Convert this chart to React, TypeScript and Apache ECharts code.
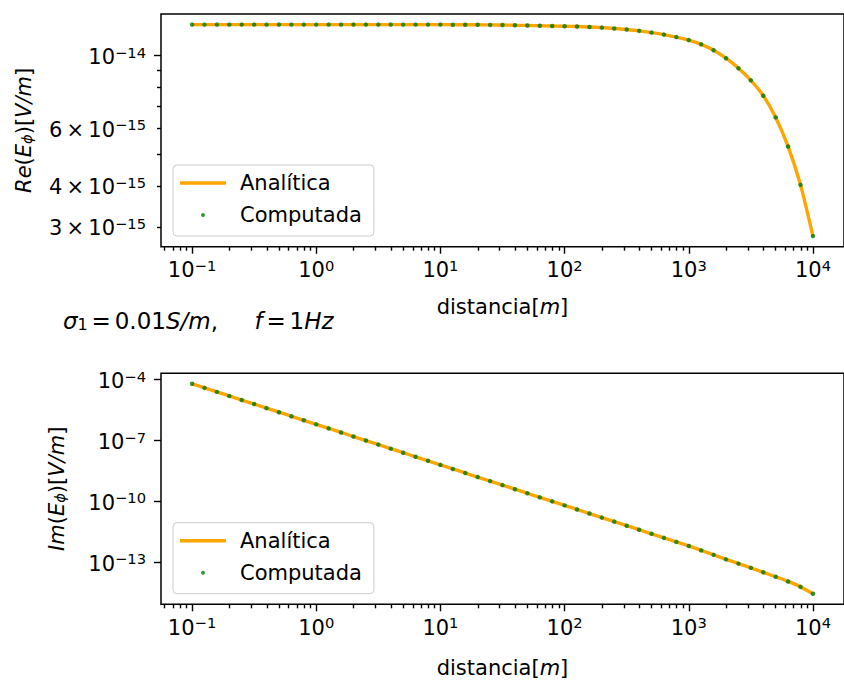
import React, { useEffect, useRef } from 'react';
import * as echarts from 'echarts';

// ---- data ----
const distancia = [
  0.1, 0.1259, 0.1585, 0.1995, 0.2512, 0.3162, 0.3981, 0.5012, 0.631, 0.7943,
  1, 1.259, 1.585, 1.995, 2.512, 3.162, 3.981, 5.012, 6.31, 7.943,
  10, 12.59, 15.85, 19.95, 25.12, 31.62, 39.81, 50.12, 63.1, 79.43,
  100, 125.9, 158.5, 199.5, 251.2, 316.2, 398.1, 501.2, 631, 794.3,
  1000, 1259, 1585, 1995, 2512, 3162, 3981, 5012, 6310, 7943, 10000,
];

const reEphi = [
  1.245e-14, 1.245e-14, 1.245e-14, 1.245e-14, 1.245e-14, 1.245e-14, 1.245e-14,
  1.245e-14, 1.245e-14, 1.245e-14, 1.245e-14, 1.245e-14, 1.245e-14, 1.245e-14,
  1.245e-14, 1.245e-14, 1.245e-14, 1.245e-14, 1.245e-14, 1.245e-14, 1.245e-14,
  1.244e-14, 1.244e-14, 1.243e-14, 1.242e-14, 1.241e-14, 1.239e-14, 1.237e-14, 1.235e-14, 1.233e-14,
  1.2307e-14, 1.2281e-14, 1.2238e-14, 1.2185e-14, 1.2117e-14, 1.2023e-14, 1.1912e-14, 1.1768e-14, 1.1603e-14, 1.1399e-14,
  1.116e-14, 1.0832e-14, 1.0397e-14, 9.824e-15, 9.154e-15, 8.408e-15, 7.547e-15, 6.478e-15, 5.276e-15, 4.03e-15, 2.809e-15,
];

const imEphi = [
  6.31e-5, 3.98e-5, 2.51e-5, 1.58e-5, 1.0e-5,
  6.31e-6, 3.98e-6, 2.51e-6, 1.58e-6, 1.0e-6,
  6.31e-7, 3.98e-7, 2.51e-7, 1.58e-7, 1.0e-7,
  6.31e-8, 3.98e-8, 2.51e-8, 1.58e-8, 1.0e-8,
  6.31e-9, 3.98e-9, 2.51e-9, 1.58e-9, 1.0e-9,
  6.31e-10, 3.98e-10, 2.51e-10, 1.58e-10, 1.0e-10,
  6.31e-11, 3.98e-11, 2.51e-11, 1.58e-11, 1.0e-11,
  6.31e-12, 3.98e-12, 2.51e-12, 1.58e-12, 1.0e-12,
  6.31e-13, 3.8e-13, 2.29e-13, 1.38e-13, 8.51e-14, 5.25e-14, 3.16e-14, 1.91e-14, 1.12e-14, 6.03e-15, 2.75e-15,
];

const xMajorTicks = [0.1, 1, 10, 100, 1000, 10000];
const reYLabelTicks = [3e-15, 4e-15, 6e-15, 1e-14];
const reYMajorTicks = [1e-14];
const reYMinorTicks = [3e-15, 4e-15, 5e-15, 6e-15, 7e-15, 8e-15, 9e-15];
const imYTicks = [1e-13, 1e-10, 1e-7, 1e-4];

const seriesNames = ['Analítica', 'Computada'];

// ---- helpers ----
const L = Math.log10;
const FONT = 'DejaVu Sans';
const FS = 21;
const SUP = 14.7;

function span(vals: number[]): [number, number] {
  const mn = Math.min(...vals);
  const mx = Math.max(...vals);
  const r = mx - mn;
  return [mn - 0.05 * r, mx + 0.05 * r];
}

const xMinorTicks: number[] = [];
for (let e = -2; e <= 4; e++) {
  for (let m = 2; m <= 9; m++) xMinorTicks.push(m * Math.pow(10, e));
}

const tickRich = {
  b: { fontFamily: FONT, fontSize: FS, lineHeight: 24, color: '#000', verticalAlign: 'bottom' },
  s: { fontFamily: FONT, fontSize: SUP, lineHeight: 24, color: '#000', verticalAlign: 'bottom', padding: [0, 0, 8, 0] },
};

function expLabel(v: number) {
  const e = Math.floor(v + 1e-6);
  const m = Math.round(Math.pow(10, v - e));
  const sup = `{s|${e < 0 ? '\u2212' + -e : e}}`;
  return m === 1 ? `{b|10}${sup}` : `{b|${m}\u2009\u00d7\u200910}${sup}`;
}

const nameRich = {
  n: { fontFamily: FONT, fontSize: FS, color: '#000', lineHeight: 24, verticalAlign: 'bottom' },
  i: { fontFamily: FONT, fontSize: FS, color: '#000', fontStyle: 'italic', lineHeight: 24, verticalAlign: 'bottom' },
  sub: { fontFamily: FONT, fontSize: SUP, color: '#000', fontStyle: 'italic', lineHeight: 14, verticalAlign: 'bottom' },
};

const xr = span(distancia.map(L));
const reR = span(reEphi.map(L));
const imR = span(imEphi.map(L));

const tickLine = { color: '#000', width: 1.4 };

function xAxes(grid: number, gap: number) {
  return [
    {
      type: 'value', gridIndex: grid, min: xr[0], max: xr[1], position: 'bottom',
      axisLine: { show: false, onZero: false },
      splitLine: { show: false },
      axisTick: { show: true, customValues: xMajorTicks.map(L), length: 7, lineStyle: tickLine },
      axisLabel: { show: true, customValues: xMajorTicks.map(L), formatter: expLabel, margin: 10, rich: tickRich },
      name: '{n|distancia[}{i|m}{n|]}',
      nameLocation: 'middle', nameGap: gap,
      nameTextStyle: { rich: nameRich },
    },
    {
      type: 'value', gridIndex: grid, min: xr[0], max: xr[1], position: 'bottom',
      axisLine: { show: false, onZero: false },
      splitLine: { show: false },
      axisTick: { show: true, customValues: xMinorTicks.filter((t) => L(t) > xr[0] && L(t) < xr[1]).map(L), length: 4, lineStyle: tickLine },
      axisLabel: { show: false },
    },
  ];
}

const legendBase = {
  orient: 'vertical',
  left: 173,
  itemWidth: 46,
  itemHeight: 4,
  itemGap: 8,
  padding: [6, 12, 9, 7],
  borderColor: '#cccccc',
  borderWidth: 1,
  borderRadius: 4,
  backgroundColor: 'rgba(255,255,255,0.8)',
  selectedMode: false,
  textStyle: { fontFamily: FONT, fontSize: FS, color: '#000', lineHeight: 24, padding: [0, 0, 0, 9] },
  data: [
    { name: seriesNames[0], icon: 'path://M0,0H46V3.4H0Z', itemStyle: { color: '#FFA500', borderWidth: 0 } },
    { name: seriesNames[1], icon: 'circle', itemStyle: { color: '#008000', borderWidth: 0 } },
  ],
};

function makeSeries(vals: number[], xi: number, yi: number) {
  const pts = distancia.map((d, i) => [L(d), L(vals[i])]);
  return [
    {
      type: 'line', name: seriesNames[0], xAxisIndex: xi, yAxisIndex: yi, data: pts,
      showSymbol: false, symbol: 'none', smooth: 0.2,
      lineStyle: { color: '#FFA500', width: 3.4 }, itemStyle: { color: '#FFA500' }, z: 2,
    },
    {
      type: 'scatter', name: seriesNames[1], xAxisIndex: xi, yAxisIndex: yi, data: pts,
      symbolSize: 4.5, itemStyle: { color: '#007a00' }, z: 3,
    },
  ];
}

const option = {
  animation: false,
  backgroundColor: '#ffffff',
  grid: [
    { left: 161, top: 14, width: 689, height: 232.7, show: true, borderColor: '#000', borderWidth: 1.5 },
    { left: 161, top: 373.3, width: 689, height: 231, show: true, borderColor: '#000', borderWidth: 1.5 },
  ],
  xAxis: [...xAxes(0, 47), ...xAxes(1, 50)],
  yAxis: [
    {
      type: 'value', gridIndex: 0, min: reR[0], max: reR[1], position: 'left',
      axisLine: { show: false, onZero: false },
      splitLine: { show: false },
      axisTick: { show: true, customValues: reYMajorTicks.map(L), length: 7, lineStyle: tickLine },
      axisLabel: { show: true, customValues: reYLabelTicks.map(L), formatter: expLabel, margin: 15, rich: tickRich },
      name: '{i|Re}{n|(}{i|E}{sub|\u03d5}{n|)[}{i|V/m}{n|]}',
      nameLocation: 'middle', nameGap: 127,
      nameTextStyle: { rich: nameRich },
    },
    {
      type: 'value', gridIndex: 0, min: reR[0], max: reR[1], position: 'left',
      axisLine: { show: false, onZero: false },
      splitLine: { show: false },
      axisTick: { show: true, customValues: reYMinorTicks.map(L), length: 4, lineStyle: tickLine },
      axisLabel: { show: false },
    },
    {
      type: 'value', gridIndex: 1, min: imR[0], max: imR[1], position: 'left',
      axisLine: { show: false, onZero: false },
      splitLine: { show: false },
      axisTick: { show: true, customValues: imYTicks.map(L), length: 7, lineStyle: tickLine },
      axisLabel: { show: true, customValues: imYTicks.map(L), formatter: expLabel, margin: 15, rich: tickRich },
      name: '{i|Im}{n|(}{i|E}{sub|\u03d5}{n|)[}{i|V/m}{n|]}',
      nameLocation: 'middle', nameGap: 94,
      nameTextStyle: { rich: nameRich },
    },
  ],
  legend: [
    { ...legendBase, top: 165 },
    { ...legendBase, top: 522.7 },
  ],
  graphic: [
    {
      type: 'text', x: 63, y: 318, silent: true,
      style: {
        text: '{i|\u03c3}{sub|1}{r|\u2006=\u20060.01}{i|S/m}{r|,\u00a0\u00a0\u00a0\u00a0\u00a0}{i|f}{r|\u2006=\u20061}{i|Hz}',
        verticalAlign: 'middle',
        align: 'left',
        rich: {
          r: { fontFamily: FONT, fontSize: 23, color: '#000', lineHeight: 28, verticalAlign: 'bottom' },
          i: { fontFamily: FONT, fontSize: 23, color: '#000', fontStyle: 'italic', lineHeight: 28, verticalAlign: 'bottom' },
          sub: { fontFamily: FONT, fontSize: 16, color: '#000', lineHeight: 17, verticalAlign: 'bottom' },
        },
      },
    },
  ],
  series: [...makeSeries(reEphi, 0, 0), ...makeSeries(imEphi, 2, 2)],
};

export default function App() {
  const ref = useRef<HTMLDivElement>(null);
  useEffect(() => {
    const chart = echarts.init(ref.current!, null, { renderer: 'svg' });
    chart.setOption(option as any);
    return () => chart.dispose();
  }, []);
  return (
    <div
      ref={ref}
      style={{ position: 'absolute', left: 0, top: 0, width: 844, height: 680, background: '#fff' }}
    />
  );
}
